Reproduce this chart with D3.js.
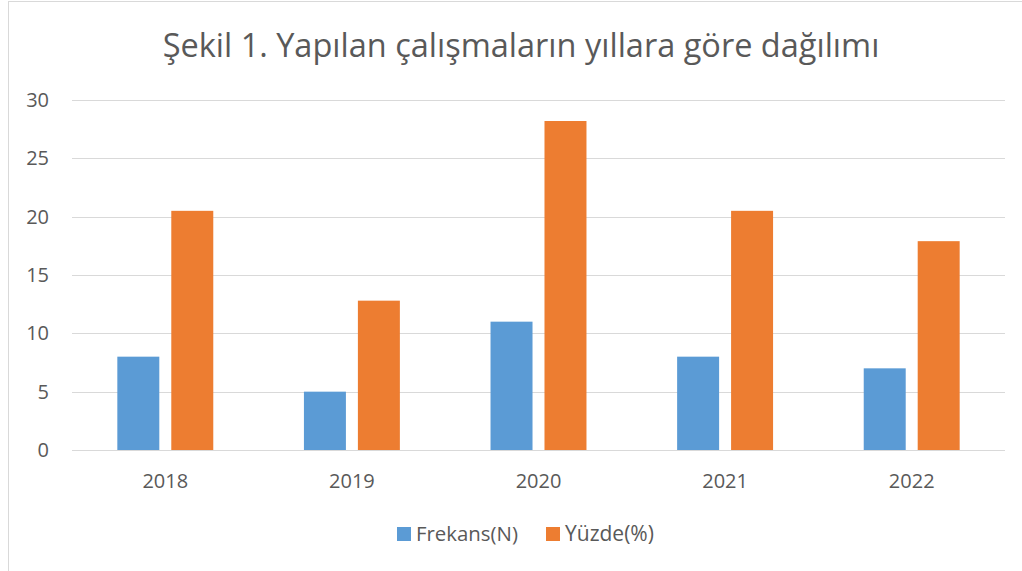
<!DOCTYPE html>
<html>
<head>
<meta charset="utf-8">
<script src="https://cdn.jsdelivr.net/npm/d3@7"></script>
<style>
  html, body { margin: 0; padding: 0; background: #fff; }
  svg { display: block; }
  text { font-family: "Open Sans", "Noto Sans", sans-serif; fill: #595959; }
</style>
</head>
<body>
<script>
// Chart data
const years = ["2018", "2019", "2020", "2021", "2022"];
const frekans = [8, 5, 11, 8, 7];
const yuzde = [20.5, 12.8, 28.2, 20.5, 17.9];
const seriesNames = ["Frekans(N)", "Yüzde(%)"];
const seriesColors = ["#5B9BD5", "#ED7D31"];
const yTicks = [0, 5, 10, 15, 20, 25, 30];
const titleText = "Şekil 1. Yapılan çalışmaların yıllara göre dağılımı";

const W = 1022, H = 571;
const margin = { left: 72, right: 17, top: 100, bottom: 121 };
const labelFont = "20px";

const svg = d3.select("body").append("svg").attr("width", W).attr("height", H);

// chart frame
svg.append("rect")
  .attr("x", 8.5).attr("y", 1.5).attr("width", W + 10).attr("height", H + 10)
  .attr("fill", "#fff").attr("stroke", "#D9D9D9").attr("stroke-width", 1);

const x = d3.scaleBand().domain(years).range([margin.left, W - margin.right]);
const y = d3.scaleLinear().domain([0, 30]).range([H - margin.bottom, margin.top]);
const xInner = d3.scaleBand().domain(seriesNames).range([0, x.bandwidth()])
  .paddingInner(0.222).paddingOuter(0.84);

// grid lines
svg.append("g").selectAll("line").data(yTicks).join("line")
  .attr("x1", margin.left).attr("x2", W - margin.right)
  .attr("y1", d => Math.round(y(d)) + 0.5).attr("y2", d => Math.round(y(d)) + 0.5)
  .attr("stroke", "#D9D9D9").attr("stroke-width", 1);

// y axis labels
const yAxis = d3.axisLeft(y).tickValues(yTicks).tickSize(0).tickPadding(0);
const gy = svg.append("g").attr("transform", "translate(49,0)").call(yAxis);
gy.select(".domain").remove();
gy.selectAll("text").style("font-size", labelFont).attr("fill", "#595959")
  .style("font-family", "Open Sans, sans-serif");

// x axis labels
const xAxis = d3.axisBottom(x).tickSize(0).tickPadding(0);
const gx = svg.append("g").attr("transform", `translate(0,${H - margin.bottom})`).call(xAxis);
gx.select(".domain").remove();
gx.selectAll("text").style("font-size", labelFont).attr("fill", "#595959")
  .style("font-family", "Open Sans, sans-serif")
  .attr("y", 38).attr("dy", 0);

// bars
const rows = years.map((yr, i) => ({ year: yr, vals: [frekans[i], yuzde[i]] }));
const groups = svg.append("g").selectAll("g").data(rows).join("g")
  .attr("transform", d => `translate(${x(d.year)},0)`);
groups.selectAll("rect")
  .data(d => d.vals.map((v, k) => ({ name: seriesNames[k], v, k })))
  .join("rect")
  .attr("x", d => xInner(d.name))
  .attr("width", xInner.bandwidth())
  .attr("y", d => y(d.v))
  .attr("height", d => y(0) - y(d.v))
  .attr("fill", d => seriesColors[d.k]);

// title
const title = svg.append("text")
  .attr("x", 521).attr("y", 57)
  .attr("text-anchor", "middle")
  .style("font-size", "30px")
  .text(titleText);
const tw = title.node().getComputedTextLength();
title.style("font-size", (30 * 717 / tw).toFixed(2) + "px");

// legend
const legend = svg.append("g");
const legendItems = [
  { name: seriesNames[0], color: seriesColors[0], x: 397, w: 102 },
  { name: seriesNames[1], color: seriesColors[1], x: 546, w: 89 }
];
legendItems.forEach(it => {
  legend.append("rect").attr("x", it.x).attr("y", 527).attr("width", 14).attr("height", 14)
    .attr("fill", it.color);
  const t = legend.append("text").attr("x", it.x + 19).attr("y", 541)
    .style("font-size", "20px").text(it.name);
  const lw = t.node().getComputedTextLength();
  t.style("font-size", (20 * it.w / lw).toFixed(2) + "px");
});
</script>
</body>
</html>
